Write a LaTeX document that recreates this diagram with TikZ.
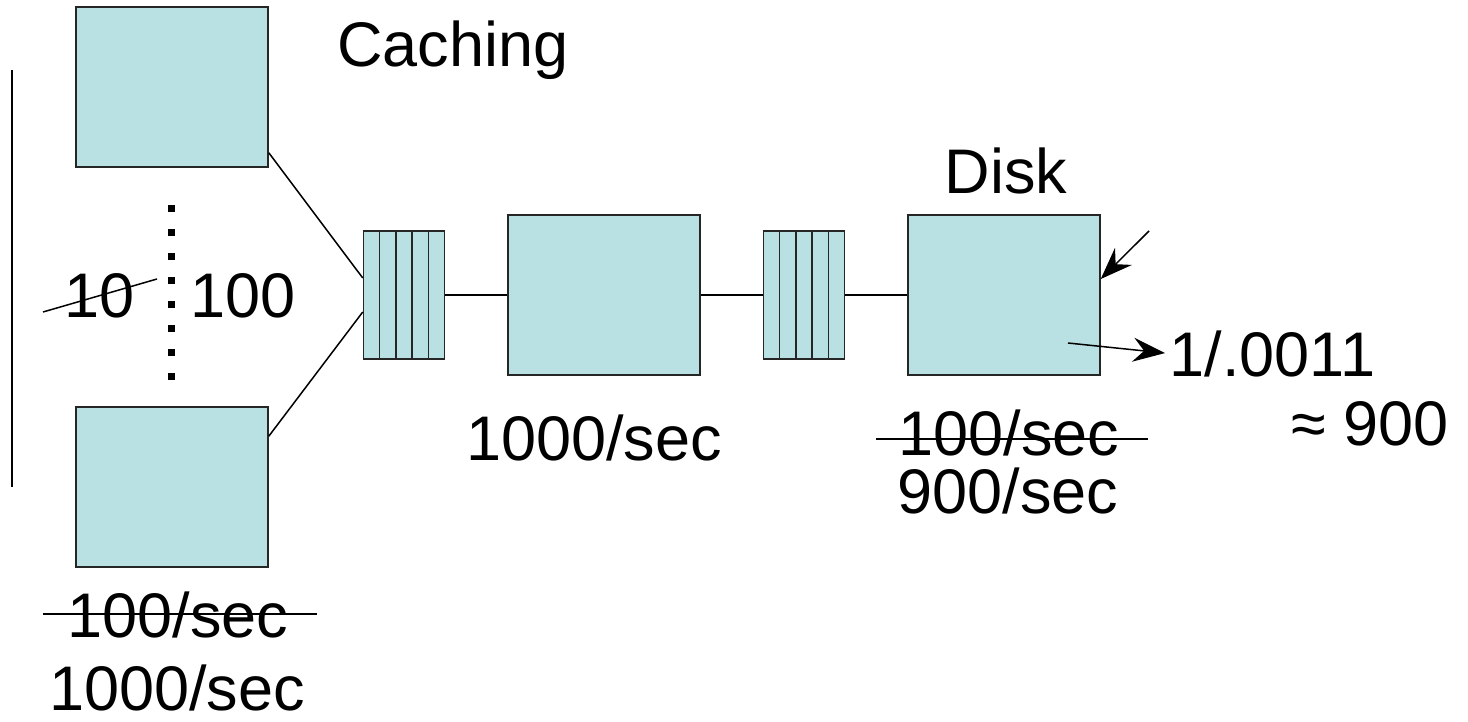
\documentclass[tikz,border=0pt]{standalone}
\usepackage{fontspec}
\setmainfont{Liberation Sans}
\usetikzlibrary{positioning,arrows.meta}
\definecolor{boxfill}{RGB}{185,224,226}

\begin{document}
\begin{tikzpicture}[x=0.5pt,y=-0.5pt,->,>={Stealth[length=16pt,width=12pt,inset=5.5pt]},line width=0.75pt,node distance=31pt,
    every node/.style={font=\fontsize{31.5}{38}\selectfont},
    station/.style={rectangle, draw=black!85, fill=boxfill, minimum width=96pt, minimum height=80pt, inner sep=0pt},
    queue/.style={rectangle, draw=black!85, fill=boxfill, minimum width=40.5pt, minimum height=64pt, inner sep=0pt,
        path picture={\foreach \i in {1,...,4} \draw[-,black!85] ([xshift=\i*8.1pt]path picture bounding box.south west) -- ([xshift=\i*8.1pt]path picture bounding box.north west);}},
    txt/.style={anchor=base, inner sep=0pt}]
                        \useasboundingbox (0,0) rectangle (1468,722);

                        \node [station](ctop) at (172,87){};
                        \node [station](cbot) at (172,487){};
                        \node [queue](q1) at (404,295){};
                        \node [station](cpu) [right=of q1]{};
                        \node [queue](q2) [right=of cpu]{};
                        \node [station](disk) [right=of q2]{};

                        \node [txt](caching) at (453,67){Caching};
                        \node [txt](disklbl) at (1006,193){Disk};
                        \node [txt](oldn) at (100,317){10};
                        \node [txt](newn) at (243,317){100};
                        \node [txt](cpurate) at (594,460){1000/sec};
                        \node [txt](olddisk) at (1009,455){100/sec};
                        \node [txt](newdisk) at (1008,513){900/sec};
                        \node [txt, anchor=base west](svc) at (1169,376){1/.0011};
                        \node [txt, anchor=base west](approx) at (1291,445){≈ 900};
                        \node [txt](oldcli) at (178,637){100/sec};
                        \node [txt](newcli) at (177,710){1000/sec};

                        \coordinate (arrivals) at (1149,231);
                        \coordinate (departs) at (1068,343);

                        \path[-]
                            ([yshift=7.5pt]ctop.south east) edge ([yshift=8.5pt]q1.west)
                            ([yshift=-15pt]cbot.north east) edge ([yshift=-8.5pt]q1.west)
                            (q1) edge (cpu)
                            (cpu) edge (q2)
                            (q2) edge (disk);
                        \draw (arrivals) -- ([yshift=8pt]disk.east);
                        \draw[shorten >=2pt] (departs) -- (svc.west);

                        \draw[-] (43,312) -- (157,279);
                        \draw[-] (876,439) -- (1148,439);
                        \draw[-] (43,614) -- (317,614);
                        \draw[-, line width=3.5pt, dash pattern=on 3.5pt off 8.5pt] (171,205) -- (171,380);
                        \draw[-, line width=1pt] (12,70) -- (12,487);
\end{tikzpicture}
\end{document}
